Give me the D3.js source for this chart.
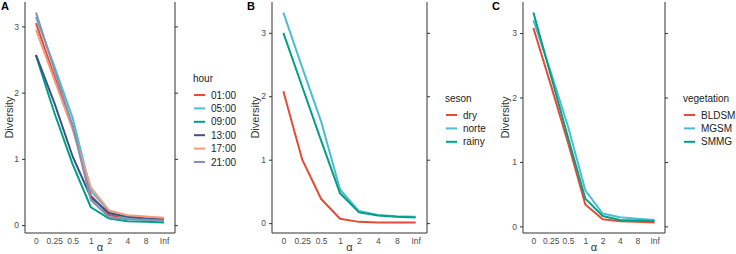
<!DOCTYPE html>
<html>
<head>
<meta charset="utf-8">
<script src="https://cdn.jsdelivr.net/npm/d3@7"></script>
<style>
body{margin:0;background:#fff;}
svg{display:block;font-family:"Liberation Sans",Arial,Helvetica,sans-serif;}
</style>
</head>
<body>
<svg id="chart" width="736" height="254"></svg>
<script>
const alphaLabels = ["0","0.25","0.5","1","2","4","8","Inf"];
const yTicks = [0,1,2,3];

// Panel A: hour
const hourNames = ["01:00","05:00","09:00","13:00","17:00","21:00"];
const hourColors = ["#E64B35","#4DBBD5","#00A087","#3C5488","#F39B7F","#8491B4"];
const hour0100 = [3.05,2.25,1.50,0.45,0.15,0.11,0.10,0.10];
const hour0500 = [3.14,2.40,1.62,0.52,0.20,0.10,0.08,0.07];
const hour0900 = [2.56,1.70,0.92,0.27,0.10,0.06,0.05,0.04];
const hour1300 = [2.57,1.85,1.04,0.42,0.18,0.13,0.10,0.08];
const hour1700 = [2.95,2.20,1.45,0.57,0.22,0.15,0.13,0.11];
const hour2100 = [3.21,2.35,1.50,0.38,0.12,0.09,0.08,0.07];

// Panel B: seson
const sesonNames = ["dry","norte","rainy"];
const sesonColors = ["#E64B35","#4DBBD5","#00A087"];
const sesonDry   = [2.08,1.00,0.38,0.07,0.02,0.01,0.01,0.01];
const sesonNorte = [3.32,2.45,1.60,0.53,0.19,0.13,0.11,0.10];
const sesonRainy = [3.00,2.15,1.30,0.47,0.17,0.12,0.10,0.09];

// Panel C: vegetation
const vegNames = ["BLDSM","MGSM","SMMG"];
const vegColors = ["#E64B35","#4DBBD5","#00A087"];
const vegBLDSM = [3.08,2.20,1.30,0.34,0.11,0.08,0.07,0.06];
const vegMGSM  = [3.20,2.40,1.55,0.56,0.20,0.14,0.12,0.10];
const vegSMMG  = [3.32,2.35,1.38,0.43,0.16,0.10,0.09,0.08];

const panels = [
  {label:"A", series:[hour0100,hour0500,hour0900,hour1300,hour1700,hour2100], names:hourNames, colors:hourColors, title:"hour",
   left:25, right:175, ytitleX:9, labelX:1, legX:193, legTitleY:82, legStartY:95},
  {label:"B", series:[sesonDry,sesonNorte,sesonRainy], names:sesonNames, colors:sesonColors, title:"seson",
   left:272, right:427, ytitleX:255, labelX:247, legX:445, legTitleY:102, legStartY:115},
  {label:"C", series:[vegBLDSM,vegMGSM,vegSMMG], names:vegNames, colors:vegColors, title:"vegetation",
   left:523, right:665, ytitleX:505, labelX:492, legX:683, legTitleY:102, legStartY:115}
];

const svg = d3.select("#chart");
const plotTop = 2, plotBottom = 233;
const axisCol = "#333333", tickTextCol = "#4D4D4D";

panels.forEach(p => {
  const g = svg.append("g");
  const all = p.series.flat();
  const mn = d3.min(all), mx = d3.max(all), pad = (mx-mn)*0.05;
  const y = d3.scaleLinear().domain([mn-pad, mx+pad]).range([plotBottom, plotTop]);
  const x = d3.scalePoint().domain(alphaLabels).range([p.left, p.right]).padding(0.6);

  const line = d3.line().x((d,i)=>x(alphaLabels[i])).y(d=>y(d));
  p.series.forEach((s,k)=>{
    g.append("path").datum(s).attr("d",line).attr("fill","none")
      .attr("stroke",p.colors[k]).attr("stroke-width",2).attr("stroke-linejoin","round");
  });

  const yl = g.append("g").attr("transform",`translate(${p.left},0)`)
    .call(d3.axisLeft(y).tickValues(yTicks).tickFormat(d3.format("d")).tickSize(3).tickPadding(3));
  const yr = g.append("g").attr("transform",`translate(${p.right},0)`)
    .call(d3.axisRight(y).tickValues(yTicks).tickFormat("").tickSize(3));
  const xb = g.append("g").attr("transform",`translate(0,${plotBottom})`)
    .call(d3.axisBottom(x).tickSize(0).tickPadding(5));
  [yl,yr,xb].forEach(a=>{
    a.select(".domain").attr("stroke",axisCol).attr("stroke-width",1)
      .attr("d", a===xb ? `M${p.left},0H${p.right}` : `M0,${plotTop}V${plotBottom}`);
    a.selectAll(".tick line").attr("stroke",axisCol);
    a.selectAll(".tick text").attr("fill",tickTextCol).attr("font-size",8.5)
      .attr("font-family","Liberation Sans, Arial, sans-serif");
  });

  g.append("text").attr("transform",`translate(${p.ytitleX},${(plotTop+plotBottom)/2}) rotate(-90)`)
    .attr("text-anchor","middle").attr("dy","0.35em").attr("font-size",11).attr("fill","#333")
    .text("Diversity");
  g.append("text").attr("x",(p.left+p.right)/2).attr("y",251)
    .attr("text-anchor","middle").attr("font-size",11).attr("fill","#333").text("α");

  g.append("text").attr("x",p.labelX).attr("y",10).attr("font-size",11).attr("font-weight","bold")
    .attr("fill","#000").text(p.label);

  const lg = g.append("g");
  lg.append("text").attr("x",p.legX).attr("y",p.legTitleY).attr("font-size",10).attr("fill","#222").text(p.title);
  p.names.forEach((n,k)=>{
    const cy = p.legStartY + k*13.4;
    lg.append("line").attr("x1",p.legX+1).attr("x2",p.legX+12).attr("y1",cy).attr("y2",cy)
      .attr("stroke",p.colors[k]).attr("stroke-width",2);
    lg.append("text").attr("x",p.legX+18).attr("y",cy).attr("dy","0.35em")
      .attr("font-size",10).attr("fill","#222").text(n);
  });
});
</script>
</body>
</html>
